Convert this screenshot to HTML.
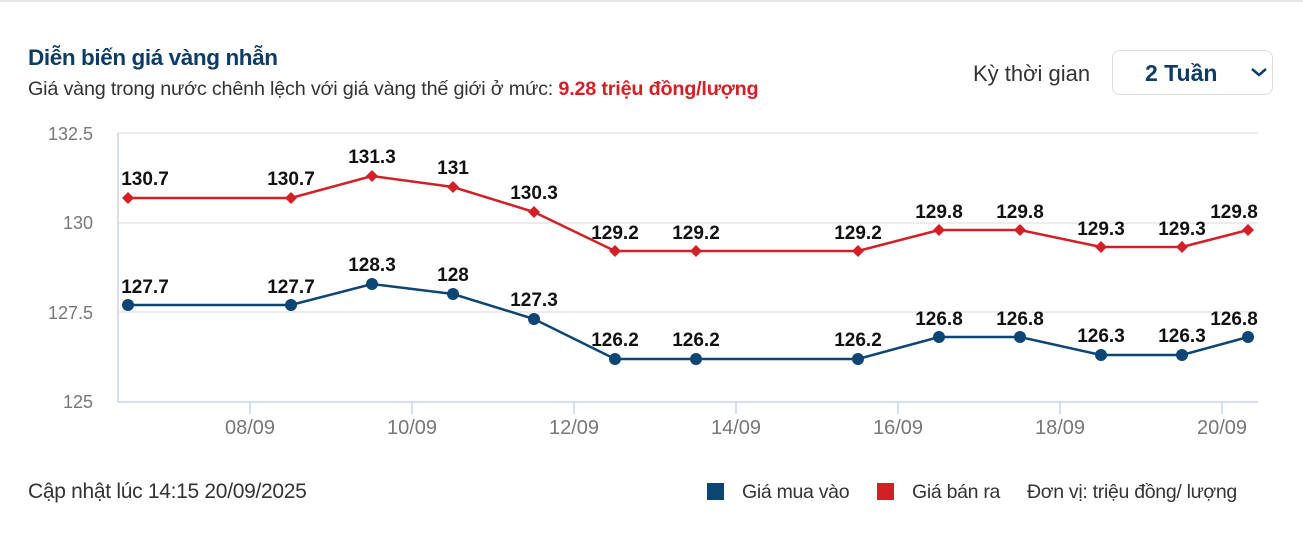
<!DOCTYPE html>
<html><head><meta charset="utf-8"><style>
body{margin:0;width:1303px;height:538px;background:#fff;font-family:"Liberation Sans",sans-serif;overflow:hidden;position:relative}
.topline{position:absolute;left:0;top:0;width:1303px;height:2px;background:#e6e6e6}
.t{position:absolute;white-space:nowrap}
</style></head><body>
<div class="topline"></div>
<div class="t" style="left:28px;top:45px;font-size:22.5px;font-weight:bold;color:#0d3d66;letter-spacing:-0.4px">Diễn biến giá vàng nhẫn</div>
<div class="t" style="left:28px;top:78px;font-size:19.8px;color:#333;letter-spacing:-0.2px">Giá vàng trong nước chênh lệch với giá vàng thế giới ở mức: <b style="color:#d32027">9.28 triệu đồng/lượng</b></div>
<div class="t" style="left:973px;top:61px;font-size:22px;color:#333">Kỳ thời gian</div>
<div style="position:absolute;left:1112px;top:50px;width:161px;height:45px;border:1px solid #ddd;border-radius:8px;box-sizing:border-box"></div>
<div class="t" style="left:1145px;top:60px;font-size:23px;font-weight:bold;color:#0d3d66">2 Tuần</div>
<svg style="position:absolute;left:0;top:0" width="1303" height="538">
<polyline points="1252,69 1259,75 1266,69" fill="none" stroke="#0d3d66" stroke-width="2.5"/>
<g stroke="#e6e6e6" stroke-width="1.5"><line x1="118" y1="133" x2="1258" y2="133"/><line x1="118" y1="223" x2="1258" y2="223"/><line x1="118" y1="312" x2="1258" y2="312"/></g>
<g stroke="#c8d4ee" stroke-width="1.5"><line x1="118" y1="133" x2="118" y2="402"/><line x1="118" y1="402" x2="1258" y2="402"/>
<line x1="250" y1="402" x2="250" y2="414"/><line x1="412" y1="402" x2="412" y2="414"/><line x1="574" y1="402" x2="574" y2="414"/><line x1="736" y1="402" x2="736" y2="414"/><line x1="898" y1="402" x2="898" y2="414"/><line x1="1060" y1="402" x2="1060" y2="414"/><line x1="1222" y1="402" x2="1222" y2="414"/></g>
<g font-size="18" fill="#777" text-anchor="end"><text x="93" y="140">132.5</text><text x="93" y="229">130</text><text x="93" y="319">127.5</text><text x="93" y="408">125</text></g>
<g font-size="20" fill="#777" text-anchor="middle"><text x="250" y="434">08/09</text><text x="412" y="434">10/09</text><text x="574" y="434">12/09</text><text x="736" y="434">14/09</text><text x="898" y="434">16/09</text><text x="1060" y="434">18/09</text><text x="1222" y="434">20/09</text></g>
<polyline fill="none" stroke="#d32027" stroke-width="2.5" points="128,198 291,198 372,176 453,187 534,212 615,251 696,251 858,251 939,230 1020,230 1101,247 1182,247 1248,230"/>
<polyline fill="none" stroke="#0d4575" stroke-width="2.5" points="128,305 291,305 372,284 453,294 534,319 615,359 696,359 858,359 939,337 1020,337 1101,355 1182,355 1248,337"/>
<g fill="#d32027">
<path d="M128 192l6 6-6 6-6-6z"/><path d="M291 192l6 6-6 6-6-6z"/><path d="M372 170l6 6-6 6-6-6z"/><path d="M453 181l6 6-6 6-6-6z"/><path d="M534 206l6 6-6 6-6-6z"/><path d="M615 245l6 6-6 6-6-6z"/><path d="M696 245l6 6-6 6-6-6z"/><path d="M858 245l6 6-6 6-6-6z"/><path d="M939 224l6 6-6 6-6-6z"/><path d="M1020 224l6 6-6 6-6-6z"/><path d="M1101 241l6 6-6 6-6-6z"/><path d="M1182 241l6 6-6 6-6-6z"/><path d="M1248 224l6 6-6 6-6-6z"/></g>
<g fill="#0d4575"><circle cx="128" cy="305" r="6"/><circle cx="291" cy="305" r="6"/><circle cx="372" cy="284" r="6"/><circle cx="453" cy="294" r="6"/><circle cx="534" cy="319" r="6"/><circle cx="615" cy="359" r="6"/><circle cx="696" cy="359" r="6"/><circle cx="858" cy="359" r="6"/><circle cx="939" cy="337" r="6"/><circle cx="1020" cy="337" r="6"/><circle cx="1101" cy="355" r="6"/><circle cx="1182" cy="355" r="6"/><circle cx="1248" cy="337" r="6"/></g>
<g font-size="19" font-weight="bold" fill="#111" text-anchor="middle">
<text x="145" y="185">130.7</text><text x="291" y="185">130.7</text><text x="372" y="163">131.3</text><text x="453" y="174">131</text><text x="534" y="199">130.3</text><text x="615" y="239">129.2</text><text x="696" y="239">129.2</text><text x="858" y="239">129.2</text><text x="939" y="218">129.8</text><text x="1020" y="218">129.8</text><text x="1101" y="235">129.3</text><text x="1182" y="235">129.3</text><text x="1234" y="218">129.8</text>
<text x="145" y="293">127.7</text><text x="291" y="293">127.7</text><text x="372" y="271">128.3</text><text x="453" y="281">128</text><text x="534" y="306">127.3</text><text x="615" y="346">126.2</text><text x="696" y="346">126.2</text><text x="858" y="346">126.2</text><text x="939" y="325">126.8</text><text x="1020" y="325">126.8</text><text x="1101" y="342">126.3</text><text x="1182" y="342">126.3</text><text x="1234" y="325">126.8</text></g>
<rect x="707" y="483" width="17" height="17" fill="#0d4575"/><rect x="877" y="483" width="17" height="17" fill="#d32027"/>
</svg>
<div class="t" style="left:28px;top:480px;font-size:21px;color:#333;letter-spacing:-0.3px">Cập nhật lúc 14:15 20/09/2025</div>
<div class="t" style="left:742px;top:481px;font-size:19.5px;color:#333;letter-spacing:-0.3px">Giá mua vào</div>
<div class="t" style="left:912px;top:481px;font-size:19.5px;color:#333;letter-spacing:-0.3px">Giá bán ra</div>
<div class="t" style="left:1027px;top:481px;font-size:19.5px;color:#333;letter-spacing:-0.3px">Đơn vị: triệu đồng/ lượng</div>
</body></html>
